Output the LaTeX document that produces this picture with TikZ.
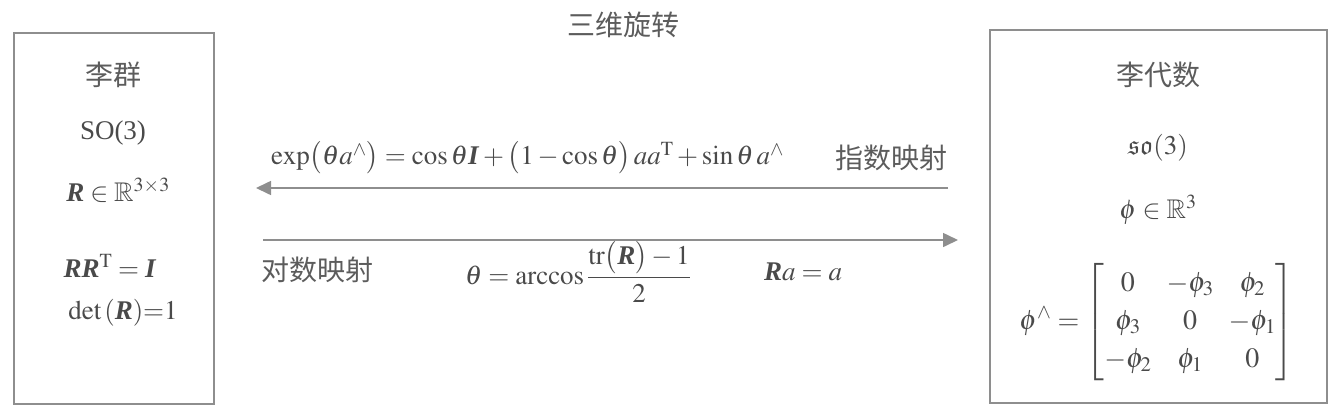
\documentclass[tikz,border=0pt]{standalone}
\usepackage{amsmath,amssymb}
\usepackage{mathptmx}
\usepackage{fontspec}
\setmainfont{Liberation Serif}
\newfontfamily\cjk{Noto Sans CJK SC}
\usetikzlibrary{arrows.meta}
\definecolor{txt}{HTML}{4A4A4A}
\definecolor{zhc}{HTML}{5C5C5C}
\definecolor{ln}{HTML}{8E8E8E}
\newcommand{\bR}{\textbf{\textit{R}}}
\newcommand{\bI}{\textbf{\textit{I}}}
\begin{document}
\begin{tikzpicture}[x=1pt,y=-1pt,
  every node/.style={text=txt, inner sep=0pt},
  box/.style={draw=ln, line width=1.6pt},
  conn/.style={draw=ln, line width=1.6pt, -{Triangle[length=15pt,width=14pt]}},
  zh/.style={font=\cjk\fontsize{28}{32}\selectfont, text=zhc},
  mth/.style={font=\fontsize{27}{32}\selectfont}]
\useasboundingbox (0,0) rectangle (1334,416);
% boxes
\node[box, minimum width=200pt, minimum height=371pt] (G) at (114,218.5) {};
\node[box, minimum width=337pt, minimum height=373pt] (A) at (1158.5,216.5) {};
% title
\node[zh] (title) at (623,25) {三维旋转};
% left box contents
\node[zh] (g1) at (113,75) {李群};
\node[mth] (g2) at (113,133) {SO(3)};
\node[mth] (g3) at (118,190) {$\bR \in \mathbb{R}^{3\times 3}$};
\node[mth] (g4) at (110,266) {$\bR\bR^{\mathrm{T}} = \bI$};
\node[mth] (g5) at (123,313) {$\det\,(\bR) {=} 1$};
% right box contents
\node[zh] (a1) at (1158,75) {李代数};
\node[mth] (a2) at (1158,148) {$\mathfrak{so}(3)$};
\node[mth] (a3) at (1158,210) {$\phi \in \mathbb{R}^{3}$};
\node[font=\fontsize{28}{33}\selectfont] (a4) at (1157,322) {\renewcommand{\arraystretch}{1.15}\setlength{\arraycolsep}{7.5pt}$\phi^{\wedge} = \begin{bmatrix} 0 & -\phi_3 & \phi_2 \\ \phi_3 & 0 & -\phi_1 \\ -\phi_2 & \phi_1 & 0 \end{bmatrix}$};
% arrows
\coordinate (t1) at (948,188);
\coordinate (t2) at (256,188);
\coordinate (b1) at (263,240);
\coordinate (b2) at (958,240);
\draw[conn] (t1) -- (t2);
\draw[conn] (b1) -- (b2);
% labels
\node[mth, anchor=west] (expf) at (271,158) {$\exp\!\big(\theta a^{\wedge}\big) = \cos\theta \bI + \big(1-\cos\theta\big)\, aa^{\mathrm{T}} + \sin\theta\, a^{\wedge}$};
\node[zh, anchor=east] (expl) at (948,158) {指数映射};
\node[zh, anchor=west] (logl) at (261,270) {对数映射};
\node[mth] (logf) at (578,272) {$\theta = \arccos\dfrac{\mathrm{tr}\big(\bR\big)-1}{2}$};
\node[mth] (axis) at (803,272) {$\bR a = a$};
\end{tikzpicture}
\end{document}
